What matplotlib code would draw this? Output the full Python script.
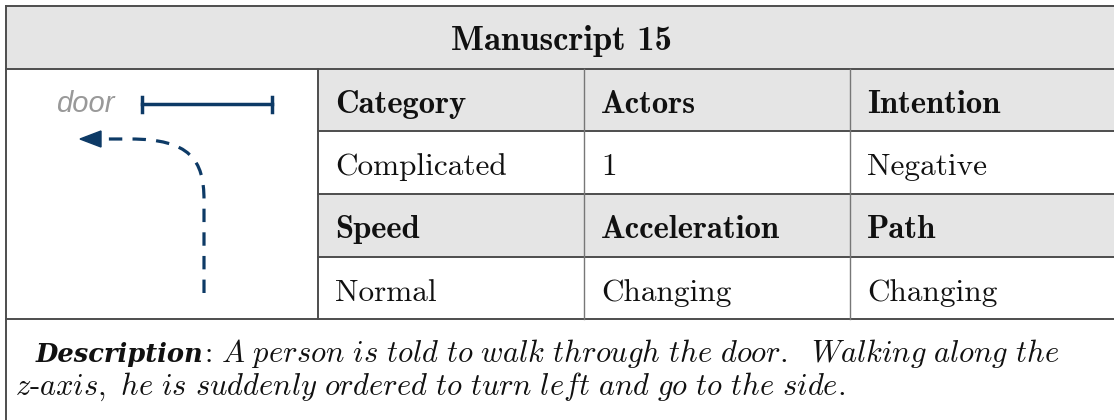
import matplotlib
matplotlib.use("Agg")
import matplotlib.pyplot as plt
from matplotlib.path import Path
from matplotlib.patches import PathPatch, Rectangle, Polygon

title = "Manuscript 15"
head_row1 = ["Category", "Actors", "Intention"]
vals_row1 = ["Complicated", "1", "Negative"]
head_row2 = ["Speed", "Acceleration", "Path"]
vals_row2 = ["Normal", "Changing", "Changing"]
desc_label = "Description"
desc_line1 = "A person is told to walk through the door.  Walking along the"
desc_line2 = ["z", "axis, he is suddenly ordered to turn left and go to the side."]

plt.rcParams['mathtext.fontset'] = 'cm'


def mit(s):
    return r'\mathit{' + s.replace(' ', r'\ ') + '}'


W, H = 1114, 420
fig = plt.figure(figsize=(W / 100, H / 100), dpi=100)
ax = fig.add_axes([0, 0, 1, 1])
ax.set_xlim(0, W)
ax.set_ylim(H, 0)
ax.axis('off')

gray = '#e5e5e5'
line = '#4d4d4d'
blue = '#0d3a66'
ink = '#111111'

left, right, top = 6, 1114, 6
hdr_bot = 69
rows = [69, 131, 194, 257, 319]
cols = [318, 584, 850, 1114]

# header band and shaded rows
ax.add_patch(Rectangle((left, top), right - left, hdr_bot - top, fc=gray, ec='none'))
for i in (0, 2):
    ax.add_patch(Rectangle((cols[0], rows[i]), right - cols[0], rows[i + 1] - rows[i],
                           fc=gray, ec='none'))

lw = 1.4
ax.plot([left, right], [top, top], color=line, lw=lw)
ax.plot([left, left], [top, H], color=line, lw=lw)
for y in rows:
    x0 = left if y in (rows[0], rows[-1]) else cols[0]
    ax.plot([x0, right], [y, y], color=line, lw=lw)
ax.plot([cols[0], cols[0]], [rows[0], rows[-1]], color=line, lw=lw)
for x in cols[1:-1]:
    ax.plot([x, x], [rows[0], rows[-1]], color='#777777', lw=1.0)

ax.text((left + right) / 2 + 1, 50, title, family='cmb10', fontsize=25,
        ha='center', va='baseline', color=ink)

cells = [(head_row1, 'cmb10', 23.5), (vals_row1, 'cmr10', 22.5),
         (head_row2, 'cmb10', 23.5), (vals_row2, 'cmr10', 22.5)]
for r, (labels, fam, fs) in enumerate(cells):
    for c, lab in enumerate(labels):
        ax.text(cols[c] + 17, rows[r] + 44, lab, family=fam, fontsize=fs,
                ha='left', va='baseline', color=ink)

# description
rend = fig.canvas.get_renderer()
t = ax.text(36, 362, desc_label, family='DejaVu Serif', weight='bold', style='italic',
            fontsize=18.5, ha='left', va='baseline', color=ink)
x = 36 + t.get_window_extent(rend).width + 1
t = ax.text(x, 362, ':', family='cmr10', fontsize=21.5, ha='left', va='baseline', color=ink)
x += t.get_window_extent(rend).width + 8
ax.text(x, 362, '$' + mit(desc_line1) + '$',
        fontsize=22, ha='left', va='baseline', color=ink)
ax.text(15, 395, '$' + mit(desc_line2[0]) + r'\text{-}' + mit(desc_line2[1]) + '$',
        fontsize=22, ha='left', va='baseline', color=ink)

# sketch: door and walking path
ax.text(85, 112, 'door', fontsize=21, style='italic', color='#999999',
        ha='center', va='baseline', family='Liberation Sans')
ax.plot([142, 272], [104, 104], color=blue, lw=2.5)
for x in (142, 272):
    ax.plot([x, x], [97, 112], color=blue, lw=2.5)

verts = [(204, 293), (204, 200), (204, 160), (190, 139), (130, 139), (100, 139)]
codes = [Path.MOVETO, Path.LINETO, Path.CURVE4, Path.CURVE4, Path.CURVE4, Path.LINETO]
ax.add_patch(PathPatch(Path(verts, codes), fc='none', ec=blue, lw=2.3,
                       linestyle=(0, (4.2, 3.2))))
ax.add_patch(Polygon([(80, 139), (101, 131), (101, 147)], closed=True, fc=blue, ec=blue))

fig.savefig('out.png', dpi=100)
